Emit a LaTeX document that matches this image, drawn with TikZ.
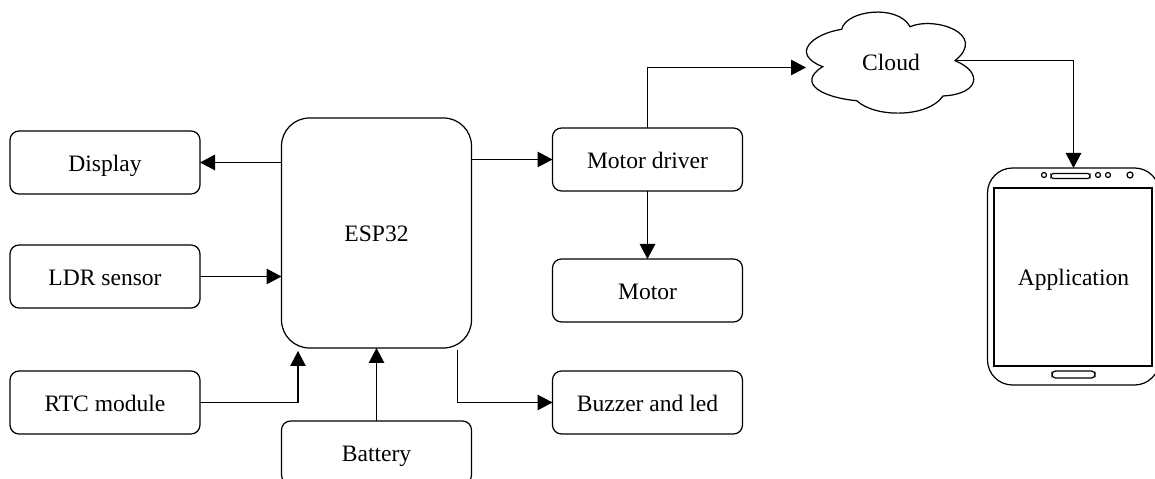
\documentclass[tikz,border=0pt]{standalone}
\usepackage{xcolor}
\usepackage{fontspec}
\setmainfont{Liberation Serif}
\usetikzlibrary{arrows.meta}

\begin{document}
\begin{tikzpicture}[x=0.2mm, y=-0.2mm, line width=0.7pt,
	labeltext/.style = {font=\fontsize{13.4}{16}\selectfont, text height=1em, text depth=0em},
	blockbox/.style = {draw, labeltext, rounded corners=0.18cm, minimum width=3.8cm, minimum height=1.26cm, outer sep=0pt},
	link/.style = {-{Triangle[length=0.3cm, width=0.31cm]}}]
	\useasboundingbox (0, 0) rectangle (1155, 479);
	\node [blockbox] (display) at (105, 162.5) {Display};
	\node [blockbox] (ldr) at (105, 276.5) {LDR sensor};
	\node [blockbox] (rtc) at (105, 402.5) {RTC module};
	\node [blockbox, rounded corners=0.56cm, minimum height=4.6cm] (esp) at (376.5, 233) {ESP32};
	\node [blockbox] (battery) at (376.5, 452.5) {Battery};
	\node [blockbox] (driver) at (647.5, 159.5) {Motor driver};
	\node [blockbox] (motor) at (647.5, 290.5) {Motor};
	\node [blockbox] (buzzer) at (647.5, 402.5) {Buzzer and led};

	\draw (822.7, 66.7) .. controls (790, 54) and (812, 34) .. (841.7, 29.3)
		.. controls (846, 10) and (898, 4) .. (910, 26.7)
		.. controls (935, 16) and (988, 34) .. (955, 60.7)
		.. controls (983, 72) and (980, 94) .. (943, 96)
		.. controls (928, 118) and (875, 118) .. (856.7, 100.7)
		.. controls (825, 98) and (795, 84) .. (822.7, 66.7) -- cycle;
	\node [labeltext] (cloud) at (891, 62) {Cloud};
	\coordinate (cloudin) at (806, 67.5);
	\coordinate (cloudout) at (955, 60.5);

	\node [blockbox, rounded corners=0.5cm, minimum width=3.44cm, minimum height=4.34cm] (app) at (1073.5, 276.5) {Application};
	\draw (994, 188) rectangle (1152, 366);
	\draw [rounded corners=0.05cm] (1051, 173.5) rectangle (1090, 178.5);
	\draw [rounded corners=0.07cm] (1052, 371) rectangle (1095, 378);
	\draw (1044, 175) circle (2.5);
	\draw (1098, 175) circle (2.5);
	\draw (1108, 175) circle (2.5);
	\draw (1130, 175) circle (3);

	\draw [link] (esp.west |- display) -- (display);
	\draw [link] (ldr) -- (esp.west |- ldr);
	\coordinate (rtcend) at (298, 351);
	\draw [link] (rtc) -| (rtcend);
	\draw [link] (battery) -- (esp);
	\draw [link] (esp.east |- driver) -- (driver);
	\coordinate (buzzerstart) at (457.5, 350);
	\draw [link] (buzzerstart) |- (buzzer);
	\draw [link] (driver) -- (motor);
	\draw [link] (driver) |- (cloudin);
	\draw [link] (cloudout) -| (app);
\end{tikzpicture}
\end{document}
